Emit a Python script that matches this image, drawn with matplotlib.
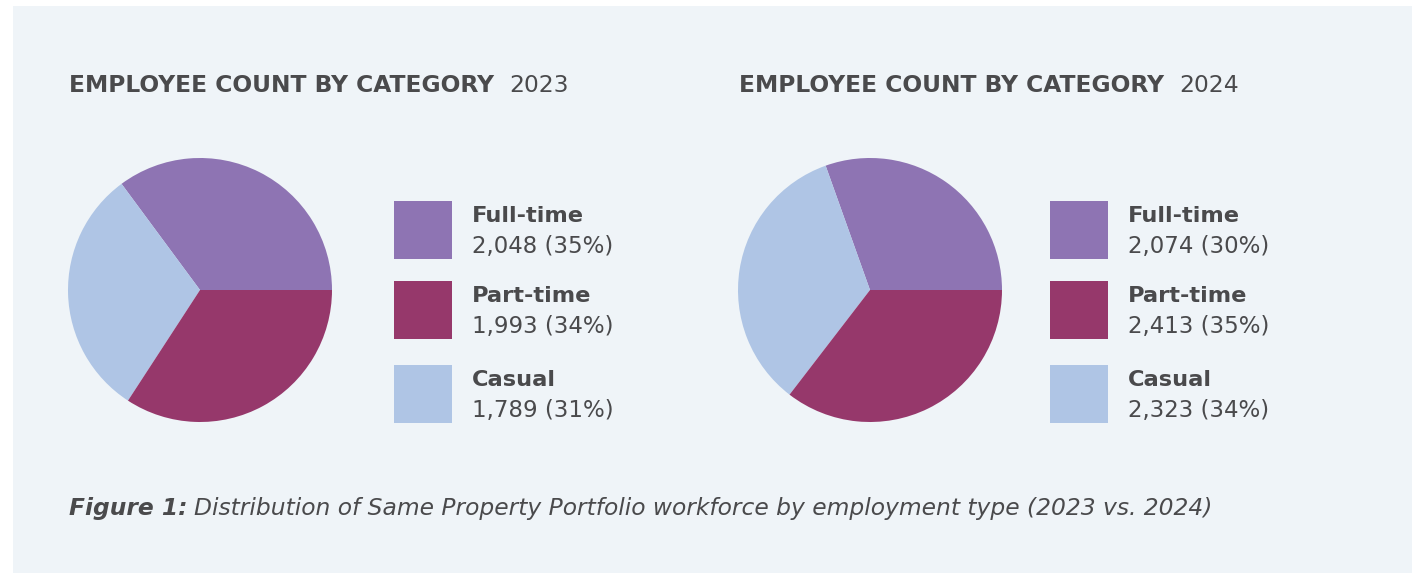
import matplotlib
matplotlib.use("Agg")
import matplotlib.pyplot as plt
from matplotlib.patches import Rectangle

# data
years = ["2023", "2024"]
categories = ["Full-time", "Part-time", "Casual"]
counts_2023 = [2048, 1993, 1789]
counts_2024 = [2074, 2413, 2323]
pct_2023 = [35, 34, 31]
pct_2024 = [30, 35, 34]
colors = {"Full-time": "#8E74B3", "Part-time": "#96386B", "Casual": "#AFC5E5"}

W, H = 1412, 573
BG = "#EFF4F8"
TXT = "#4A4A4C"

fig = plt.figure(figsize=(W / 100, H / 100), dpi=100)
fig.patch.set_facecolor("white")
fig.add_artist(Rectangle((13 / W, 0), 1 - 13 / W, (H - 6) / H,
                         transform=fig.transFigure, facecolor=BG, edgecolor="none", zorder=0))

def fx(x):
    return x / W

def fy(y):
    return 1 - y / H

renderer = fig.canvas.get_renderer()

def two_part(x, y, bold_txt, reg_txt, size, gap=14, style="normal"):
    t = fig.text(fx(x), fy(y), bold_txt, fontsize=size, fontweight="bold", style=style,
                 color=TXT, va="center", ha="left")
    bb = t.get_window_extent(renderer)
    fig.text(fx(bb.x1 + gap), fy(y), reg_txt, fontsize=size, style=style,
             color=TXT, va="center", ha="left")

panels = [(counts_2023, pct_2023, 68, 394), (counts_2024, pct_2024, 738, 1050)]

for yr, (counts, pcts, px, lx) in zip(years, panels):
    two_part(px + 1, 85, "EMPLOYEE COUNT BY CATEGORY", yr, 16.8, gap=15)

    # pie: Full-time, Casual, Part-time counterclockwise from 3 o'clock
    order = ["Full-time", "Casual", "Part-time"]
    vals = [counts[categories.index(c)] for c in order]
    ax = fig.add_axes([fx(px), fy(422), 264 / W, 264 / H])
    ax.pie(vals, colors=[colors[c] for c in order], startangle=0, counterclock=True,
           radius=1, wedgeprops=dict(linewidth=0))
    ax.set_xlim(-1, 1)
    ax.set_ylim(-1, 1)
    ax.set_aspect("equal")
    ax.axis("off")

    # legend
    tops = [201, 281, 365]
    for cat, cnt, pc, top in zip(categories, counts, pcts, tops):
        fig.add_artist(Rectangle((fx(lx), fy(top + 58)), 58 / W, 58 / H,
                                 transform=fig.transFigure, facecolor=colors[cat],
                                 edgecolor="none"))
        fig.text(fx(lx + 78), fy(top + 15), cat, fontsize=16.2, fontweight="bold",
                 color=TXT, va="center", ha="left")
        fig.text(fx(lx + 78), fy(top + 45), f"{cnt:,} ({pc}%)", fontsize=16.5,
                 color=TXT, va="center", ha="left")

two_part(69, 508, "Figure 1:", "Distribution of Same Property Portfolio workforce by employment type (2023 vs. 2024)",
         16.8, gap=7, style="italic")

fig.savefig("out.png", dpi=100, facecolor=fig.get_facecolor())
